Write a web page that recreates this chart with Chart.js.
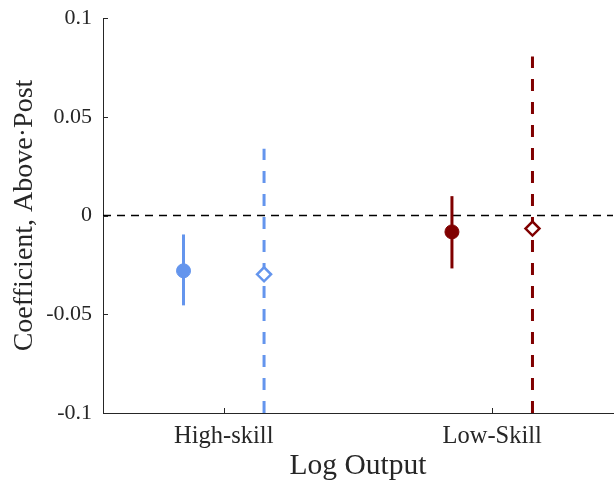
<!DOCTYPE html>
<html>
<head>
<meta charset="utf-8">
<script src="https://cdn.jsdelivr.net/npm/chart.js@4/dist/chart.umd.min.js"></script>
<style>
  html, body { margin: 0; padding: 0; background: #fff; }
  #wrap { width: 615px; height: 484px; }
</style>
</head>
<body>
<div id="wrap"><canvas id="coefChart"></canvas></div>
<script>
        // Data
        const groups = ['High-skill', 'Low-Skill'];
        const groupColors = ['#6495ed', '#800000'];
        const solidCoef = [-0.0280, -0.0083];
        const solidLow = [-0.0455, -0.0268];
        const solidHigh = [-0.0096, 0.0098];
        const hollowCoef = [-0.0298, -0.0066];
        const hollowLow = [-0.1000, -0.1000];
        const hollowHigh = [0.0338, 0.0805];
        const yTicks = [-0.1, -0.05, 0, 0.05, 0.1];

        const textColor = '#262626';
        const serif = '"Liberation Serif", "Times New Roman", serif';
        const shift = 0.15;

        // Build datasets from the arrays
        const datasets = [];
        datasets.push({
            label: 'zero',
            data: [{ x: 0.55, y: 0 }, { x: 2.45, y: 0 }],
            showLine: true,
            borderColor: '#000000',
            borderWidth: 1.5,
            borderDash: [8, 6],
            pointRadius: 0,
            order: 3
        });
        groups.forEach((g, i) => {
            const xs = i + 1 - shift;
            const xh = i + 1 + shift;
            datasets.push({
                label: g + ' CI',
                data: [{ x: xs, y: solidLow[i] }, { x: xs, y: solidHigh[i] }],
                showLine: true,
                borderColor: groupColors[i],
                borderWidth: 3,
                pointRadius: 0,
                order: 2
            });
            datasets.push({
                label: g + ' CI alt',
                data: [{ x: xh, y: hollowLow[i] }, { x: xh, y: hollowHigh[i] }],
                showLine: true,
                borderColor: groupColors[i],
                borderWidth: 3,
                borderDash: [12, 11],
                pointRadius: 0,
                order: 2
            });
            datasets.push({
                label: g,
                data: [{ x: xs, y: solidCoef[i] }],
                pointStyle: 'circle',
                pointRadius: 7,
                pointBackgroundColor: groupColors[i],
                pointBorderColor: groupColors[i],
                pointBorderWidth: 1,
                order: 0
            });
            datasets.push({
                label: g + ' alt',
                data: [{ x: xh, y: hollowCoef[i] }],
                pointStyle: 'rectRot',
                pointRadius: 7,
                pointBackgroundColor: '#ffffff',
                pointBorderColor: groupColors[i],
                pointBorderWidth: 2.5,
                order: 0
            });
        });

        // MATLAB-style inward tick marks
        const inwardTicks = {
            id: 'inwardTicks',
            afterDraw(chart) {
                const { ctx, chartArea, scales } = chart;
                ctx.save();
                ctx.strokeStyle = textColor;
                ctx.lineWidth = 1;
                ctx.beginPath();
                scales.y.ticks.forEach(t => {
                    const py = Math.round(scales.y.getPixelForValue(t.value)) + 0.5;
                    ctx.moveTo(chartArea.left, py);
                    ctx.lineTo(chartArea.left + 5, py);
                });
                scales.x.ticks.forEach(t => {
                    const px = Math.round(scales.x.getPixelForValue(t.value)) + 0.5;
                    ctx.moveTo(px, chartArea.bottom);
                    ctx.lineTo(px, chartArea.bottom - 5);
                });
                ctx.stroke();
                ctx.restore();
            }
        };

        const ctx = document.getElementById('coefChart').getContext('2d');
        new Chart(ctx, {
            type: 'scatter',
            data: { datasets: datasets },
            options: {
                responsive: true,
                maintainAspectRatio: false,
                animation: false,
                layout: { autoPadding: false, padding: { top: 18, right: 2, left: 0, bottom: 0 } },
                plugins: {
                    legend: { display: false },
                    tooltip: { enabled: false }
                },
                scales: {
                    x: {
                        type: 'linear',
                        min: 0.55,
                        max: 2.45,
                        afterFit: s => {
                            s.height = 71;
                            s.paddingLeft = 0;
                            s.paddingRight = 0;
                        },
                        afterBuildTicks: s => { s.ticks = groups.map((g, i) => ({ value: i + 1 })); },
                        grid: { display: false, drawTicks: false },
                        border: { display: true, color: textColor, width: 1 },
                        ticks: {
                            padding: 9,
                            color: textColor,
                            font: { family: serif, size: 24.5 },
                            callback: v => groups[Math.round(v) - 1]
                        },
                        title: {
                            display: true,
                            text: 'Log Output',
                            color: textColor,
                            font: { family: serif, size: 29.5 },
                            padding: { top: 0, bottom: 0 }
                        }
                    },
                    y: {
                        min: -0.1,
                        max: 0.1,
                        afterFit: s => {
                            s.width = 103;
                            s.paddingTop = 0;
                            s.paddingBottom = 0;
                        },
                        afterBuildTicks: s => { s.ticks = yTicks.map(v => ({ value: v })); },
                        grid: { display: false, drawTicks: false },
                        border: { display: true, color: textColor, width: 1 },
                        ticks: {
                            padding: 11,
                            color: textColor,
                            font: { family: serif, size: 22 },
                            callback: v => (v === 0 ? '0' : String(+v.toFixed(2)))
                        },
                        title: {
                            display: true,
                            text: 'Coefficient, Above\u00b7Post',
                            color: textColor,
                            font: { family: serif, size: 28 },
                            padding: { top: 8, bottom: 0 }
                        }
                    }
                }
            },
            plugins: [inwardTicks]
        });
</script>
</body>
</html>
